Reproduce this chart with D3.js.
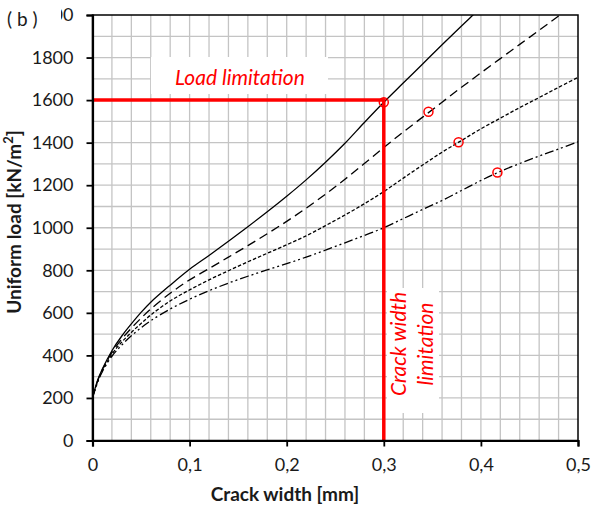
<!DOCTYPE html>
<html>
<head>
<meta charset="utf-8">
<script src="https://cdn.jsdelivr.net/npm/d3@7"></script>
<style>
  html, body { margin: 0; padding: 0; background: #fff; }
  svg { display: block; }
</style>
</head>
<body>
<svg id="chart" width="592" height="508"></svg>
<script>
// Crack width (mm) sampled along each load curve
const crackWidth = [0, 0.005, 0.01, 0.02, 0.03, 0.04, 0.05, 0.06, 0.08, 0.10,
  0.12, 0.14, 0.16, 0.18, 0.20, 0.22, 0.24, 0.26, 0.28, 0.30,
  0.32, 0.34, 0.36, 0.38, 0.40, 0.42, 0.44, 0.46, 0.48, 0.50];

// Uniform load (kN/m²) for the four curves
const loadSolid = [200, 280, 335, 422, 490, 548, 602, 650, 730, 805,
  870, 937, 1005, 1075, 1148, 1225, 1308, 1397, 1495, 1590,
  1680, 1770, 1860, 1948, 2036, null, null, null, null, null];
const loadDashed = [200, 276, 331, 414, 476, 528, 575, 618, 692, 755,
  808, 862, 916, 972, 1030, 1092, 1158, 1228, 1302, 1377,
  1450, 1520, 1590, 1660, 1728, 1795, 1862, 1928, 1995, 2060];
const loadDotted = [200, 274, 328, 406, 462, 508, 550, 590, 656, 708,
  755, 798, 840, 880, 920, 962, 1010, 1060, 1113, 1170,
  1233, 1295, 1355, 1410, 1465, 1515, 1565, 1612, 1660, 1707];
const loadDashDot = [200, 270, 322, 396, 448, 492, 530, 563, 618, 664,
  704, 740, 772, 802, 831, 862, 895, 929, 964, 1000,
  1043, 1086, 1128, 1175, 1222, 1265, 1302, 1337, 1370, 1404];

// Points where each curve meets its governing limit
const limitWidth = [0.3, 0.346, 0.377, 0.417];
const limitLoad = [1590, 1545, 1402, 1260];

// Design limits
const loadLimit = 1600;
const crackLimit = 0.3;

// Axis ticks
const xTicks = [0, 0.1, 0.2, 0.3, 0.4, 0.5];
const xTickLabels = ["0", "0,1", "0,2", "0,3", "0,4", "0,5"];
const yTicks = [0, 200, 400, 600, 800, 1000, 1200, 1400, 1600, 1800, 2000];

const FONT = "Lato, 'Open Sans', sans-serif";
const svg = d3.select("#chart");

const x = d3.scaleLinear().domain([0, 0.5]).range([92.5, 578]);
const y = d3.scaleLinear().domain([0, 2000]).range([440.5, 15]);

// Grid: minor lines every 0.02 mm and every 100 kN/m²
const grid = svg.append("g").attr("stroke", "#c4c4c4").attr("stroke-width", 1.3);
grid.selectAll("line.v").data(d3.range(1, 25).map(i => i * 0.02))
  .join("line")
  .attr("x1", d => x(d)).attr("x2", d => x(d))
  .attr("y1", y(0)).attr("y2", y(2000));
grid.selectAll("line.h").data(d3.range(1, 20).map(i => i * 100))
  .join("line")
  .attr("x1", x(0)).attr("x2", x(0.5))
  .attr("y1", d => y(d)).attr("y2", d => y(d));

// Clip for the curves
svg.append("clipPath").attr("id", "plotClip")
  .append("rect")
  .attr("x", x(0)).attr("y", y(2000))
  .attr("width", x(0.5) - x(0)).attr("height", y(0) - y(2000));

const series = [
  { values: loadSolid, dash: null },
  { values: loadDashed, dash: "9,5" },
  { values: loadDotted, dash: "3.5,2" },
  { values: loadDashDot, dash: "9,3,2,3,2,3" }
];

const line = d3.line()
  .defined(d => d[1] != null)
  .x(d => x(d[0]))
  .y(d => y(d[1]))
  .curve(d3.curveCatmullRom.alpha(0.5));

svg.append("g").attr("clip-path", "url(#plotClip)")
  .selectAll("path")
  .data(series)
  .join("path")
  .attr("d", s => line(crackWidth.map((w, i) => [w, s.values[i]])))
  .attr("fill", "none")
  .attr("stroke", "#000")
  .attr("stroke-width", 1.3)
  .attr("stroke-dasharray", s => s.dash);

// Label boxes sit over the grid
function whiteBox(x0, y0, x1, y1) {
  svg.append("rect").attr("x", x0).attr("y", y0)
    .attr("width", x1 - x0).attr("height", y1 - y0).attr("fill", "#fff");
}
whiteBox(151, 57, 328, 94);
whiteBox(387, 288, 439, 413);

// Limit lines
svg.append("line")
  .attr("x1", x(0)).attr("x2", x(crackLimit))
  .attr("y1", y(loadLimit)).attr("y2", y(loadLimit))
  .attr("stroke", "#ff0000").attr("stroke-width", 3.5);
svg.append("line")
  .attr("x1", x(crackLimit)).attr("x2", x(crackLimit))
  .attr("y1", y(loadLimit) - 1.75).attr("y2", y(0))
  .attr("stroke", "#ff0000").attr("stroke-width", 3.5);

// Limit point markers
svg.append("g").selectAll("circle")
  .data(limitWidth.map((w, i) => [w, limitLoad[i]]))
  .join("circle")
  .attr("cx", d => x(d[0])).attr("cy", d => y(d[1]))
  .attr("r", 4.5)
  .attr("fill", "none").attr("stroke", "#ff0000").attr("stroke-width", 1.5);

// Limit annotations
svg.append("text")
  .attr("x", 240).attr("y", 85)
  .attr("text-anchor", "middle")
  .attr("font-family", FONT).attr("font-style", "italic")
  .attr("font-size", 21).attr("fill", "#ff0000")
  .text("Load limitation");

const crackNote = svg.append("text")
  .attr("transform", "translate(406,344) rotate(-90)")
  .attr("text-anchor", "middle")
  .attr("font-family", FONT).attr("font-style", "italic")
  .attr("font-size", 21).attr("fill", "#ff0000");
crackNote.append("tspan").attr("x", 0).attr("y", 0).text("Crack width");
crackNote.append("tspan").attr("x", 0).attr("y", 27).text("limitation");

// Plot frame
svg.append("rect")
  .attr("x", x(0)).attr("y", y(2000))
  .attr("width", x(0.5) - x(0)).attr("height", y(0) - y(2000))
  .attr("fill", "none").attr("stroke", "#000").attr("stroke-width", 1.5);

// Axes
const xAxis = d3.axisBottom(x).tickValues(xTicks)
  .tickFormat((d, i) => xTickLabels[i]).tickSize(6).tickPadding(12);
const yAxis = d3.axisLeft(y).tickValues(yTicks)
  .tickFormat(d3.format("d")).tickSize(6).tickPadding(13);

const gx = svg.append("g").attr("transform", `translate(0,${y(0)})`).call(xAxis);
const gy = svg.append("g").attr("transform", `translate(${x(0)},0)`).call(yAxis);
[gx, gy].forEach(g => {
  g.select(".domain").attr("stroke", "#000").attr("stroke-width", 2.2);
  g.selectAll(".tick line").attr("stroke", "#000").attr("stroke-width", 1.8);
  g.selectAll(".tick text")
    .attr("font-family", FONT).attr("font-size", 18).attr("fill", "#1a1a1a");
});

// Axis titles
svg.append("text")
  .attr("x", 285).attr("y", 501)
  .attr("text-anchor", "middle")
  .attr("font-family", FONT).attr("font-weight", "bold")
  .attr("font-size", 19).attr("fill", "#1a1a1a")
  .text("Crack width [mm]");

const yTitle = svg.append("text")
  .attr("transform", "translate(21,222) rotate(-90)")
  .attr("text-anchor", "middle")
  .attr("font-family", FONT).attr("font-weight", "bold")
  .attr("font-size", 19).attr("fill", "#1a1a1a");
yTitle.append("tspan").text("Uniform load [kN/m");
yTitle.append("tspan").attr("baseline-shift", "super").attr("font-size", 13).text("2");
yTitle.append("tspan").text("]");

// Panel tag
whiteBox(0, 0, 61, 32);
svg.append("text")
  .attr("x", 7).attr("y", 26)
  .attr("font-family", FONT).attr("font-size", 19).attr("fill", "#1a1a1a")
  .text("( b )");
</script>
</body>
</html>
